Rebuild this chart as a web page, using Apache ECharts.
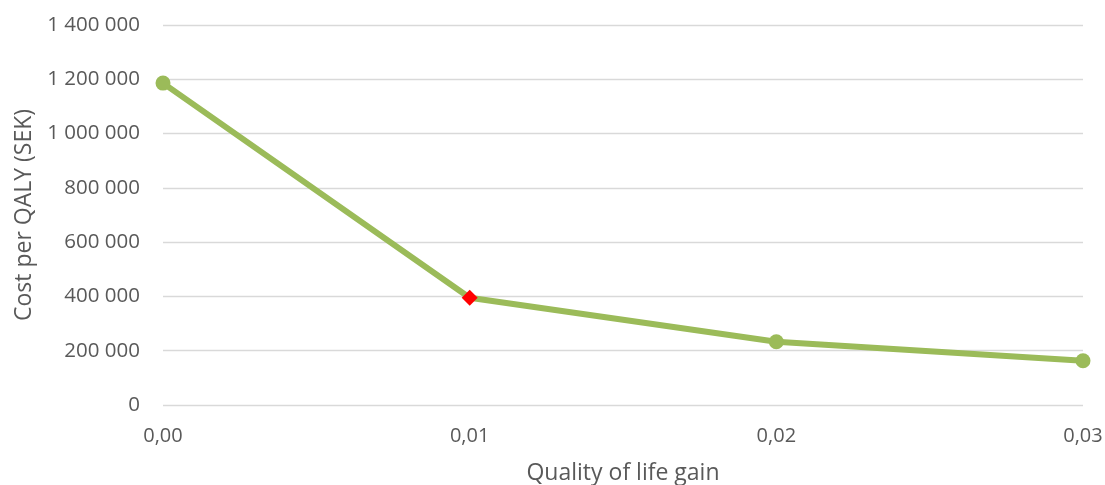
<!DOCTYPE html>
<html>
<head>
<meta charset="utf-8">
<script src="https://cdn.jsdelivr.net/npm/echarts@6/dist/echarts.min.js"></script>
<style>
  html, body { margin: 0; padding: 0; background: #fff; }
  #chart { width: 1105px; height: 485px; }
</style>
</head>
<body>
<div id="chart"></div>
<script>
// Quality of life gain (x) and cost per QALY in SEK (y)
const qolGain = [0.00, 0.01, 0.02, 0.03];
const costPerQaly = [1186000, 395000, 233000, 163000];
const highlightIndex = 1; // base case point shown as a red diamond

const fontFamily = "'Open Sans', 'Liberation Sans', sans-serif";
const textColor = '#595959';

function fmtThousands(v) {
  return String(Math.round(v)).replace(/\B(?=(\d{3})+(?!\d))/g, ' ');
}

const points = qolGain.map((x, i) => {
  const p = { value: [x, costPerQaly[i]] };
  if (i === highlightIndex) {
    p.symbol = 'diamond';
    p.symbolSize = 16;
    p.itemStyle = { color: '#FF0000' };
  }
  return p;
});

const chart = echarts.init(document.getElementById('chart'));
chart.setOption({
  animation: false,
  grid: { left: 163, right: 22, top: 25, bottom: 80, outerBoundsMode: 'none' },
  xAxis: {
    type: 'value',
    min: 0, max: 0.03, interval: 0.01,
    name: 'Quality of life gain',
    nameLocation: 'middle',
    nameGap: 57,
    nameTextStyle: { color: textColor, fontSize: 23, fontFamily },
    axisLine: { show: false },
    axisTick: { show: false },
    splitLine: { show: false },
    axisLabel: {
      color: textColor, fontSize: 20, fontFamily, margin: 21,
      formatter: v => v.toFixed(2).replace('.', ',')
    }
  },
  yAxis: {
    type: 'value',
    min: 0, max: 1400000, interval: 200000,
    name: 'Cost per QALY (SEK)',
    nameLocation: 'middle',
    nameGap: 127,
    nameTextStyle: { color: textColor, fontSize: 23, fontFamily },
    axisLine: { show: false },
    axisTick: { show: false },
    splitLine: { lineStyle: { color: '#D9D9D9', width: 1.3 } },
    axisLabel: {
      color: textColor, fontSize: 20.5, fontFamily, margin: 23,
      formatter: fmtThousands
    }
  },
  series: [{
    type: 'line',
    data: points,
    symbol: 'circle',
    symbolSize: 15,
    lineStyle: { color: '#9BBB59', width: 6 },
    itemStyle: { color: '#9BBB59' }
  }]
});
</script>
</body>
</html>
